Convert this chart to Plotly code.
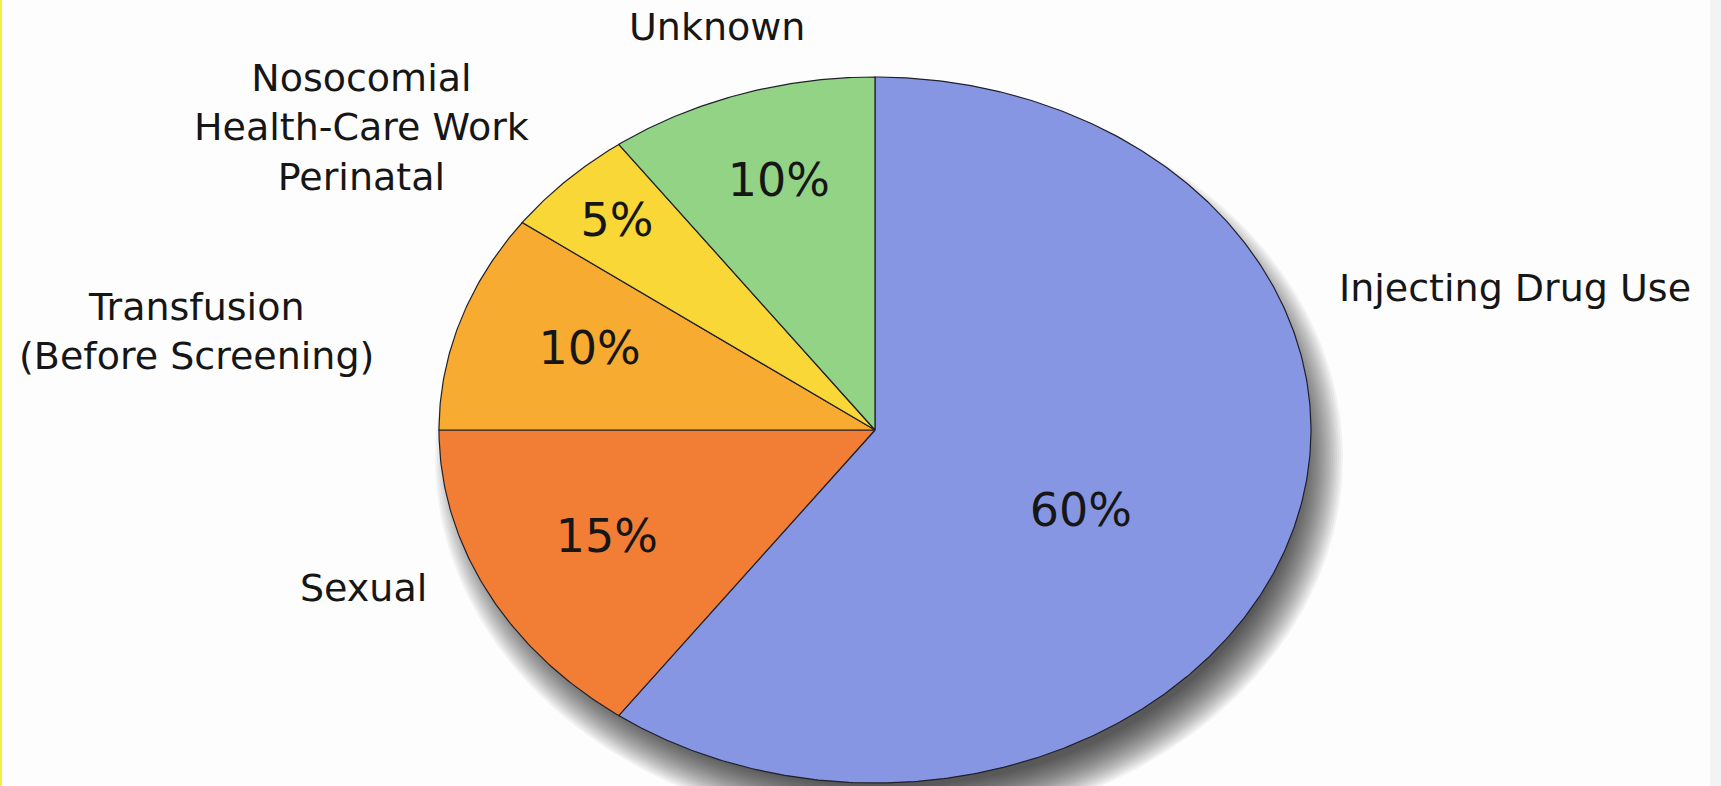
import numpy as np
import plotly.graph_objects as go

# ---------------- data ----------------
categories = ["Injecting Drug Use", "Sexual", "Transfusion<br>(Before Screening)",
              "Nosocomial<br>Health-Care Work<br>Perinatal", "Unknown"]
values = [60, 15, 10, 5, 10]
colors = ["#8796E3", "#F27E35", "#F7AB30", "#F8D737", "#92D386"]

# ---------------- layout constants ----------------
W, H = 1721, 786
CX, CY = 875, 430          # pie centre (px)
RX, RY = 436, 353          # horizontal / vertical radius (px)
START = 90.0               # first slice starts at 12 o'clock, clockwise
# inner label placement: (radial fraction, angle tweak in degrees)
inner_pos = [(0.53, -9), (0.69, 0), (0.69, -0.5), (0.83, 0.5), (0.73, -0.4)]
# outer label anchors (px, text-block centre)
outer_pos = [(1515, 288), (363, 588), (196, 331), (361, 127), (717, 27)]

FONT = "DejaVu Sans"
TXT = "#161616"

fig = go.Figure()

# soft drop shadow (stack of translucent ellipses)
t = np.linspace(0, 2 * np.pi, 361)
SDX, SDY = 14, 28
for s in range(18, -26, -2):
    fig.add_trace(go.Scatter(
        x=CX + SDX + (RX + s) * np.cos(t), y=CY + SDY + (RY + s) * np.sin(t),
        mode="lines", fill="toself", line=dict(width=0),
        fillcolor="rgba(0,0,0,0.045)", hoverinfo="skip", showlegend=False))

# slices
total = float(sum(values))
a0 = START
mids = []
for cat, v, col in zip(categories, values, colors):
    sweep = 360.0 * v / total
    a1 = a0 - sweep
    th = np.radians(np.linspace(a0, a1, max(int(sweep * 2), 10)))
    xs = np.concatenate([[CX], CX + RX * np.cos(th), [CX]])
    ys = np.concatenate([[CY], CY - RY * np.sin(th), [CY]])
    fig.add_trace(go.Scatter(
        x=xs, y=ys, mode="lines", fill="toself", fillcolor=col,
        line=dict(color="#20202a", width=1.2), name=cat.replace("<br>", " "),
        hoverinfo="name", showlegend=False))
    mids.append((a0 + a1) / 2)
    a0 = a1

# percentage labels inside slices
lx, ly, lt = [], [], []
for v, m, (rf, dth) in zip(values, mids, inner_pos):
    a = np.radians(m + dth)
    lx.append(CX + rf * RX * np.cos(a))
    ly.append(CY - rf * RY * np.sin(a))
    lt.append(f"{v}%")
fig.add_trace(go.Scatter(
    x=lx, y=ly, text=lt, mode="text", textposition="middle center",
    textfont=dict(family=FONT, size=46, color=TXT),
    hoverinfo="skip", showlegend=False))

# category labels outside
for cat, (ax, ay) in zip(categories, outer_pos):
    fig.add_annotation(x=ax, y=ay, text=cat, showarrow=False,
                       xanchor="center", yanchor="middle", align="center",
                       font=dict(family=FONT, size=38, color=TXT))

# thin yellow frame on the left and pale strip on the right
fig.add_shape(type="rect", x0=0, x1=2, y0=0, y1=H, line=dict(width=0),
              fillcolor="#F5EE40", layer="above")
fig.add_shape(type="rect", x0=1710, x1=W, y0=0, y1=H, line=dict(width=0),
              fillcolor="#F3F3F3", layer="below")

fig.update_layout(
    width=W, height=H, autosize=False,
    margin=dict(l=0, r=0, t=0, b=0),
    paper_bgcolor="#FDFDFD", plot_bgcolor="#FDFDFD",
    xaxis=dict(range=[0, W], visible=False, fixedrange=True),
    yaxis=dict(range=[H, 0], visible=False, fixedrange=True),
    showlegend=False,
)

fig.write_html("out.html")
